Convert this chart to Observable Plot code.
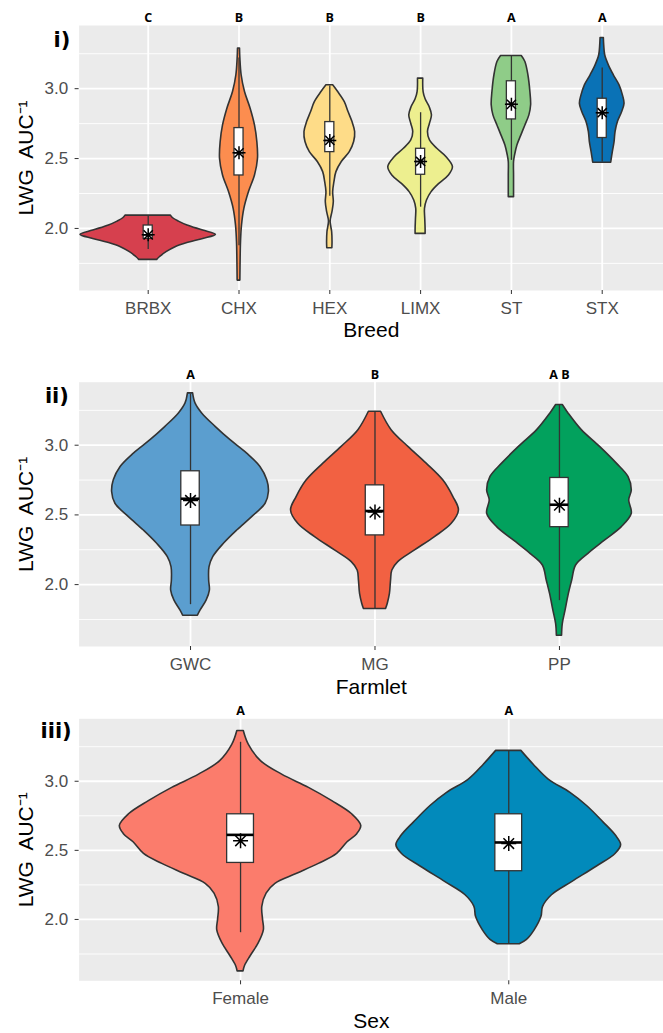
<!DOCTYPE html>
<html>
<head>
<meta charset="utf-8">
<script src="https://cdn.jsdelivr.net/npm/d3@7"></script>
<script src="https://cdn.jsdelivr.net/npm/@observablehq/plot@0.6"></script>
<style>
  html, body { margin: 0; padding: 0; background: #ffffff; }
  #chart svg { display: block; }
</style>
</head>
<body>
<div id="chart"></div>
<script>
// ---------------- DATA ----------------
// Panel i) Breed
const breeds = ["BRBX", "CHX", "HEX", "LIMX", "ST", "STX"];
const breedLetters = ["C", "B", "B", "B", "A", "A"];
const breedColors = ["#d6404e", "#fc8d4f", "#fedc88", "#edef8f", "#8fcc88", "#0a72b6"];
// violin outlines: [LWG AUC value, half-width (fraction of category spacing)]
const violinBRBX = [[2.092,0.250],[2.073,0.275],[2.049,0.338],[2.021,0.433],[1.985,0.606],[1.954,0.745],[1.925,0.606],[1.897,0.441],[1.866,0.301],[1.830,0.202],[1.794,0.128],[1.775,0.099]];
const violinCHX = [[3.287,0.011],[3.215,0.015],[3.096,0.029],[2.976,0.066],[2.857,0.128],[2.737,0.176],[2.618,0.202],[2.498,0.209],[2.379,0.176],[2.260,0.110],[2.140,0.059],[2.021,0.033],[1.901,0.022],[1.782,0.018],[1.627,0.015]];
const violinHEX = [[3.024,0.037],[2.976,0.092],[2.904,0.165],[2.833,0.206],[2.761,0.250],[2.690,0.279],[2.618,0.268],[2.546,0.220],[2.475,0.132],[2.403,0.073],[2.331,0.051],[2.260,0.037],[2.188,0.044],[2.116,0.029],[2.049,0.009],[1.973,0.026],[1.901,0.030],[1.858,0.028]];
const violinLIMX = [[3.072,0.029],[2.976,0.033],[2.924,0.055],[2.869,0.099],[2.809,0.125],[2.749,0.103],[2.690,0.081],[2.630,0.103],[2.570,0.184],[2.510,0.286],[2.439,0.356],[2.379,0.312],[2.319,0.206],[2.260,0.121],[2.200,0.070],[2.140,0.048],[2.069,0.051],[1.997,0.055],[1.961,0.055]];
const violinST = [[3.234,0.114],[3.191,0.154],[3.096,0.187],[2.976,0.209],[2.881,0.217],[2.809,0.198],[2.737,0.154],[2.666,0.110],[2.594,0.066],[2.522,0.040],[2.475,0.029],[2.379,0.029],[2.283,0.029],[2.224,0.029]];
const violinSTX = [[3.363,0.018],[3.310,0.022],[3.239,0.033],[3.167,0.073],[3.096,0.128],[3.024,0.191],[2.952,0.228],[2.893,0.246],[2.833,0.220],[2.761,0.173],[2.690,0.147],[2.618,0.136],[2.546,0.117],[2.470,0.099]];
const breedQ1 = [1.925, 2.379, 2.546, 2.384, 2.780, 2.647];
const breedQ3 = [2.021, 2.718, 2.761, 2.570, 3.053, 2.928];
const breedMedian = [1.954, 2.541, 2.630, 2.479, 2.888, 2.828];
const breedMean = [1.954, 2.541, 2.630, 2.479, 2.888, 2.828];
const breedLo = [1.849, 1.877, 2.230, 2.152, 2.487, 2.475];
const breedHi = [2.088, 3.220, 3.020, 2.828, 3.234, 3.148];

// Panel ii) Farmlet
const farmlets = ["GWC", "MG", "PP"];
const farmletLetters = ["A", "B", "A B"];
const farmletColors = ["#5b9ecf", "#f26142", "#02a15d"];
const violinGWC = [[3.372,0.014],[3.300,0.027],[3.228,0.063],[3.132,0.136],[3.036,0.217],[2.940,0.307],[2.844,0.379],[2.748,0.416],[2.664,0.425],[2.580,0.407],[2.484,0.334],[2.388,0.253],[2.293,0.181],[2.197,0.123],[2.125,0.103],[2.029,0.101],[1.957,0.105],[1.885,0.087],[1.813,0.054],[1.777,0.040]];
const violinMG = [[3.240,0.033],[3.108,0.090],[2.988,0.181],[2.868,0.280],[2.748,0.370],[2.628,0.425],[2.532,0.455],[2.436,0.416],[2.341,0.325],[2.245,0.217],[2.161,0.126],[2.101,0.094],[2.029,0.087],[1.933,0.081],[1.861,0.069],[1.825,0.060]];
const violinPP = [[3.288,0.018],[3.228,0.049],[3.108,0.121],[2.988,0.220],[2.868,0.311],[2.772,0.374],[2.676,0.392],[2.604,0.378],[2.508,0.392],[2.412,0.338],[2.317,0.248],[2.221,0.157],[2.137,0.090],[2.029,0.069],[1.933,0.051],[1.813,0.033],[1.717,0.018],[1.633,0.014]];
const farmletQ1 = [2.424, 2.353, 2.412];
const farmletQ3 = [2.813, 2.712, 2.765];
const farmletMedian = [2.616, 2.528, 2.573];
const farmletMean = [2.604, 2.520, 2.570];
const farmletLo = [1.856, 1.825, 1.885];
const farmletHi = [3.367, 3.240, 3.288];

// Panel iii) Sex
const sexes = ["Female", "Male"];
const sexLetters = ["A", "A"];
const sexColors = ["#fb7c6c", "#028abb"];
const violinFemale = [[3.364,0.012],[3.263,0.031],[3.144,0.077],[3.048,0.155],[2.952,0.255],[2.856,0.342],[2.761,0.416],[2.677,0.450],[2.617,0.435],[2.557,0.398],[2.474,0.360],[2.402,0.292],[2.330,0.211],[2.258,0.130],[2.187,0.097],[2.091,0.081],[1.995,0.084],[1.923,0.087],[1.828,0.068],[1.732,0.037],[1.660,0.016],[1.624,0.011]];
const violinMale = [[3.220,0.047],[3.120,0.093],[3.012,0.149],[2.916,0.230],[2.821,0.292],[2.701,0.354],[2.605,0.400],[2.538,0.419],[2.474,0.398],[2.383,0.329],[2.270,0.236],[2.175,0.161],[2.091,0.128],[2.019,0.122],[1.923,0.097],[1.852,0.068],[1.821,0.041]];
const sexQ1 = [2.409, 2.349];
const sexQ3 = [2.761, 2.761];
const sexMedian = [2.612, 2.557];
const sexMean = [2.569, 2.549];
const sexLo = [1.904, 1.820];
const sexHi = [3.282, 3.220];

const yMajorTicks = [2.0, 2.5, 3.0];
const yMinorTicks = [1.75, 2.25, 2.75, 3.25];
const yTitle = "LWG\u00a0 AUC\u207b\u00b9";

// ---------------- DRAWING ----------------
const star8 = {
  draw(context, size) {
    const r = Math.sqrt(size / Math.PI);
    for (let k = 0; k < 4; k++) {
      const a = k * Math.PI / 4;
      const dx = r * Math.cos(a), dy = r * Math.sin(a);
      context.moveTo(-dx, -dy);
      context.lineTo(dx, dy);
    }
  }
};

const SANS = "'Liberation Sans', Arial, Helvetica, sans-serif";

function panel(cfg) {
  const idx = cfg.names.map((_, i) => i);
  const rows = [];
  cfg.names.forEach((name, i) => cfg.violins[i].forEach(([v, hw]) => rows.push({name, i, v, x1: i - hw, x2: i + hw})));
  const boxes = cfg.names.map((name, i) => ({
    name, i, q1: cfg.q1[i], q3: cfg.q3[i], med: cfg.med[i], mean: cfg.mean[i], lo: cfg.lo[i], hi: cfg.hi[i], letter: cfg.letters[i]
  }));
  const bw = 0.05;
  return Plot.plot({
    width: 663,
    height: cfg.height,
    marginLeft: 78.6,
    marginRight: 0,
    marginTop: cfg.marginTop,
    marginBottom: cfg.marginBottom,
    style: {fontFamily: SANS, background: "white", overflow: "visible"},
    x: {domain: cfg.xDomain, axis: null},
    y: {domain: [1.556, 3.452], axis: null},
    marks: [
      Plot.frame({fill: "#ebebeb", stroke: null}),
      Plot.ruleY(yMinorTicks, {stroke: "white", strokeWidth: 0.9}),
      Plot.ruleY(yMajorTicks, {stroke: "white", strokeWidth: 1.8}),
      Plot.ruleX(idx, {stroke: "white", strokeWidth: 1.8}),
      ...cfg.names.map((name, i) => Plot.areaX(rows.filter(r => r.i === i), {
        y: "v", x1: "x1", x2: "x2", fill: cfg.colors[i], stroke: "#333333", strokeWidth: 1.6, curve: "catmull-rom"
      })),
      Plot.ruleX(boxes, {x: "i", y1: "lo", y2: "hi", stroke: "#333333", strokeWidth: 1.3}),
      Plot.rect(boxes, {x1: d => d.i - bw, x2: d => d.i + bw, y1: "q1", y2: "q3", fill: "white", stroke: "#333333", strokeWidth: 1.3}),
      Plot.ruleY(boxes, {y: "med", x1: d => d.i - bw, x2: d => d.i + bw, stroke: "black", strokeWidth: cfg.medWidth}),
      Plot.dot(boxes, {x: "i", y: "mean", symbol: star8, r: cfg.starR, stroke: "black", fill: "none", strokeWidth: 1.5}),
      Plot.axisX({ticks: idx, tickFormat: i => cfg.names[i], tickSize: 4, tickPadding: 7, fontSize: 17, color: "#4d4d4d", stroke: "#333333", label: null}),
      Plot.axisY({ticks: yMajorTicks, tickFormat: d3.format(".1f"), tickSize: 4, tickPadding: 7, fontSize: 17, color: "#4d4d4d", stroke: "#333333", label: null}),
      Plot.text(boxes, {x: "i", text: "letter", frameAnchor: "top", lineAnchor: "middle", dy: -7.5, fontSize: 12.5, fontWeight: "bold", fontFamily: "'Open Sans', sans-serif", fill: "black"}),
      Plot.text([cfg.xTitle], {text: d => d, frameAnchor: "bottom", lineAnchor: "middle", textAnchor: "middle", dy: cfg.titleDy, fontSize: 21, fill: "black"}),
      Plot.text([yTitle], {text: d => d, frameAnchor: "left", rotate: -90, textAnchor: "middle", lineAnchor: "middle", dx: -52.6, fontSize: 21, fill: "black"}),
      Plot.text([cfg.label], {text: d => d, frameAnchor: "top-left", textAnchor: "start", lineAnchor: "bottom", dx: cfg.labelDx, dy: cfg.labelDy, fontSize: 21, fontWeight: "bold", fontFamily: "'DejaVu Sans', sans-serif", fill: "black"})
    ]
  });
}

const chart = document.getElementById("chart");

chart.append(panel({
  names: breeds, letters: breedLetters, colors: breedColors,
  violins: [violinBRBX, violinCHX, violinHEX, violinLIMX, violinST, violinSTX],
  q1: breedQ1, q3: breedQ3, med: breedMedian, mean: breedMean, lo: breedLo, hi: breedHi,
  xDomain: [-0.761, 5.675], height: 355, marginTop: 25, marginBottom: 65,
  xTitle: "Breed", titleDy: 40, label: "i)", labelDx: -25.6, labelDy: 21, starR: 6.5, medWidth: 1.6
}));

chart.append(panel({
  names: farmlets, letters: farmletLetters, colors: farmletColors,
  violins: [violinGWC, violinMG, violinPP],
  q1: farmletQ1, q3: farmletQ3, med: farmletMedian, mean: farmletMean, lo: farmletLo, hi: farmletHi,
  xDomain: [-0.604, 2.564], height: 342, marginTop: 26.7, marginBottom: 51,
  xTitle: "Farmlet", titleDy: 41, label: "ii)", labelDx: -34.2, labelDy: 20.8, starR: 7.5, medWidth: 2.6
}));

chart.append(panel({
  names: sexes, letters: sexLetters, colors: sexColors,
  violins: [violinFemale, violinMale],
  q1: sexQ1, q3: sexQ3, med: sexMedian, mean: sexMean, lo: sexLo, hi: sexHi,
  xDomain: [-0.602, 1.577], height: 336, marginTop: 21.3, marginBottom: 52.7,
  xTitle: "Sex", titleDy: 40, label: "iii)", labelDx: -38.6, labelDy: 19.2, starR: 7.5, medWidth: 2.6
}));
</script>
</body>
</html>
